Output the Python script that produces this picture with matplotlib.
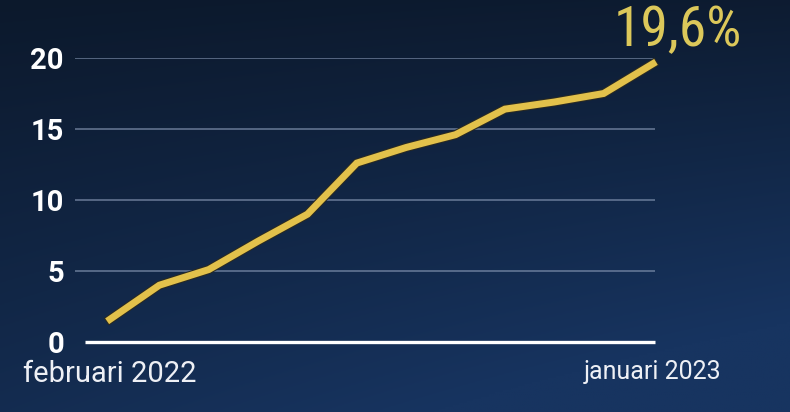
from matplotlib import pyplot as plt
from matplotlib import patheffects as pe
import numpy as np

# data (percent, month on month)
months = ['februari 2022', 'maart', 'april', 'mei', 'juni', 'juli', 'augustus',
          'september', 'oktober', 'november', 'december', 'januari 2023']
values = [1.6, 4.0, 5.1, 7.1, 9.0, 12.6, 13.7, 14.6, 16.4, 16.9, 17.5, 19.6]
yticks = [0, 5, 10, 15, 20]
last_label = '19,6%'

W, H = 790, 412
fig = plt.figure(figsize=(W/100, H/100), dpi=100)

# background gradient (dark navy, a little lighter towards the lower right)
bg = fig.add_axes([0, 0, 1, 1])
yy, xx = np.mgrid[0:1:200j, 0:1:400j]
top = np.array([0x0c, 0x19, 0x2c]) / 255
bot = np.array([0x17, 0x34, 0x60]) / 255
t = np.clip(0.7*yy + 0.45*xx*yy + 0.1*xx, 0, 1)[..., None]
img = top*(1-t) + bot*t
bg.imshow(img, aspect='auto', extent=[0, 1, 0, 1], origin='upper')
bg.set_axis_off()

x = np.arange(len(values))
px_per = (653 - 110) / 11
ax = fig.add_axes([75/W, (H-342)/H, 580/W, 284/H])
ax.set_facecolor('none')
ax.set_xlim(-35/px_per, 11 + 2/px_per)
ax.set_ylim(0, 20)

for v in yticks[1:]:
    ax.axhline(v, color='#7f90ad', lw=1.1, alpha=0.8, zorder=1)
ax.plot([-25/px_per, 11 + 2/px_per], [0, 0], color='white', lw=2.4, zorder=2,
        solid_capstyle='butt', clip_on=False)

ax.plot(x, values, color='#e2c14b', lw=5, zorder=3, solid_joinstyle='miter',
        clip_on=False,
        path_effects=[pe.Stroke(linewidth=6.5, foreground='#2a2a22'), pe.Normal()])

ax.annotate(last_label, (x[-1], values[-1]), xytext=(18, 5),
            textcoords='offset points', ha='center', va='bottom',
            fontsize=40, color='#dcc85a', fontstretch='condensed',
            family=['Roboto Condensed', 'DejaVu Sans Condensed', 'Liberation Sans Narrow',
                    'Roboto'])

for s in ax.spines.values():
    s.set_visible(False)
ax.set_yticks(yticks)
ax.set_yticklabels([str(v) for v in yticks], family='Roboto', fontweight='bold',
                   fontsize=21, color='white')
ax.set_xticks([0, 11])
ax.set_xticklabels([months[0], months[-1]], family='Roboto', color='#eef0f5')
ax.get_xticklabels()[0].set_fontsize(21)
ax.get_xticklabels()[1].set_fontsize(18)
ax.tick_params(axis='y', length=0, pad=8)
ax.tick_params(axis='x', length=0, pad=13)

fig.savefig('out.png', dpi=100)
